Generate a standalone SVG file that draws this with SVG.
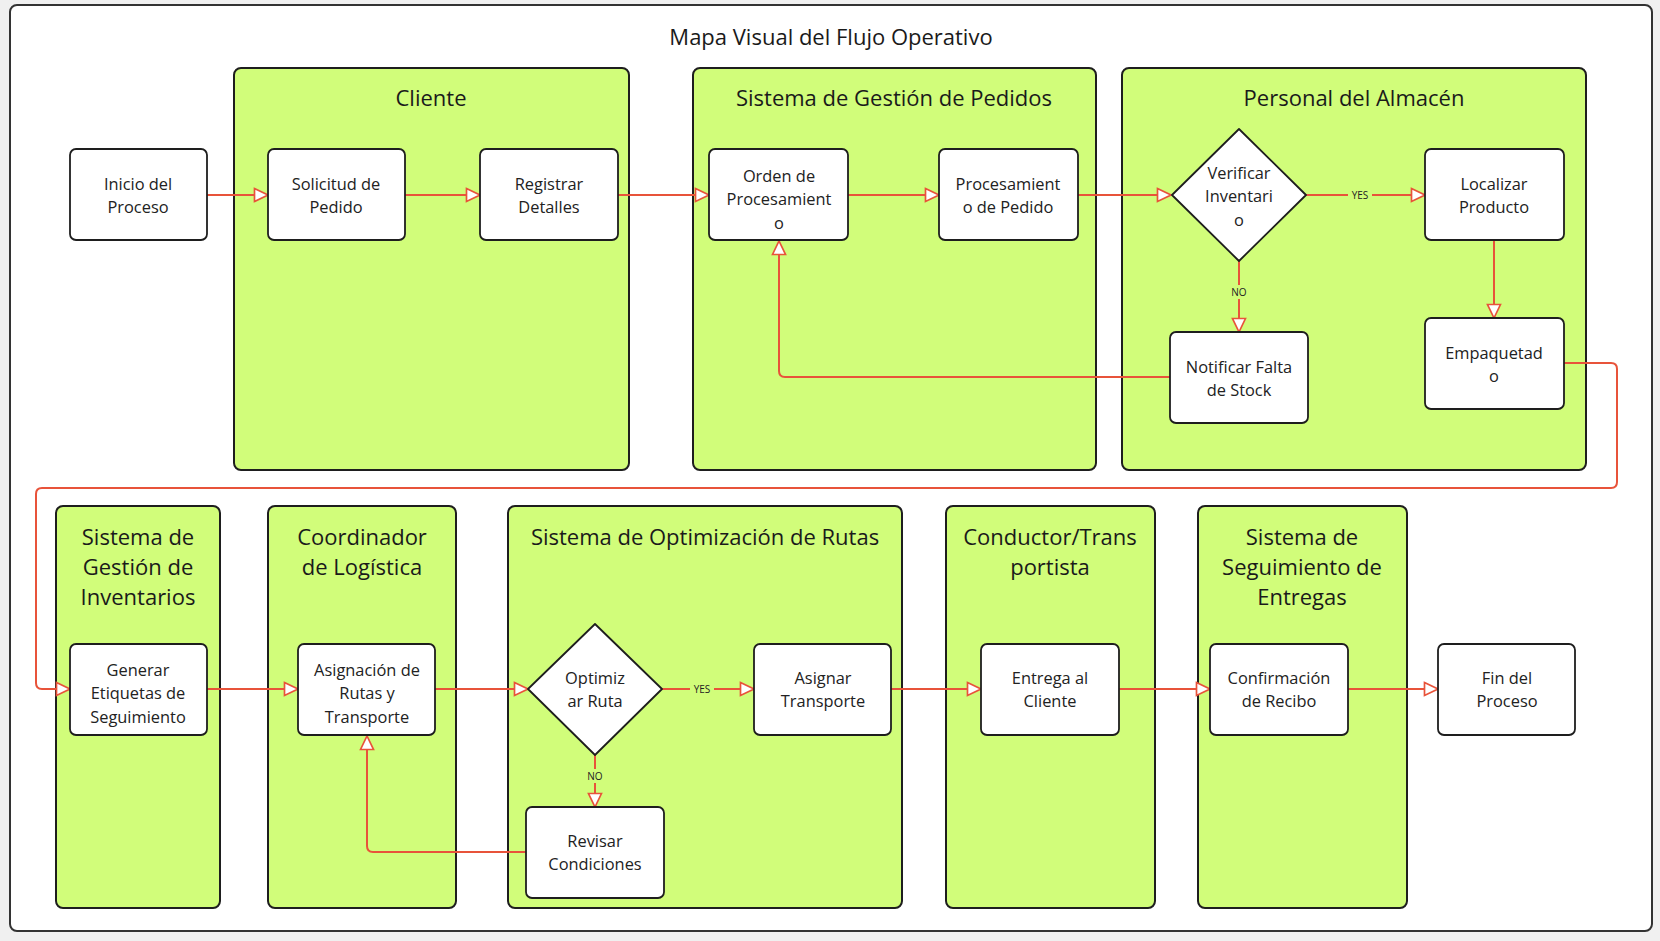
<svg xmlns="http://www.w3.org/2000/svg" width="1660" height="941" viewBox="0 0 1660 941">
<defs>
<marker id="arr" viewBox="0 0 16 16" refX="15" refY="8" markerWidth="16" markerHeight="16" markerUnits="userSpaceOnUse" orient="auto">
<path d="M1.5,1.5 L15,8 L1.5,14.5 Z" fill="#fff" stroke="#e8533a" stroke-width="1.7" stroke-linejoin="miter"/>
</marker>
<style>
.lane{fill:#d1fd7a;stroke:#1e1e1e;stroke-width:2}
.node{fill:#fff;stroke:#1e1e1e;stroke-width:1.8}
.lt{font-family:"Open Sans","Noto Sans",sans-serif;font-size:22px;fill:#1a1a1a;text-anchor:middle;dominant-baseline:central}
.nt{font-family:"Open Sans","Noto Sans",sans-serif;font-size:16.4px;fill:#222;text-anchor:middle;dominant-baseline:central}
.cl{fill:none;stroke:#e8533a;stroke-width:2}
.lb{font-family:"Open Sans","Noto Sans",sans-serif;font-size:10px;fill:#222;text-anchor:middle;dominant-baseline:central}
</style>
</defs>
<rect x="0" y="0" width="1660" height="941" fill="#f0f0f0"/>
<rect x="10" y="5" width="1642" height="926" rx="7" fill="#fff" stroke="#333" stroke-width="2"/>
<text x="831" y="36" class="lt" style="font-size:22px">Mapa Visual del Flujo Operativo</text>

<g id="lane-cliente"><rect class="lane" x="234" y="68" width="395" height="402" rx="7"/><text class="lt" x="431" y="97">Cliente</text></g>
<g id="lane-pedidos"><rect class="lane" x="693" y="68" width="403" height="402" rx="7"/><text class="lt" x="894" y="97">Sistema de Gestión de Pedidos</text></g>
<g id="lane-almacen"><rect class="lane" x="1122" y="68" width="464" height="402" rx="7"/><text class="lt" x="1354" y="97">Personal del Almacén</text></g>
<g id="lane-inventarios"><rect class="lane" x="56" y="506" width="164" height="402" rx="7"/><text class="lt" x="138" y="536">Sistema de</text><text class="lt" x="138" y="566">Gestión de</text><text class="lt" x="138" y="596">Inventarios</text></g>
<g id="lane-logistica"><rect class="lane" x="268" y="506" width="188" height="402" rx="7"/><text class="lt" x="362" y="536">Coordinador</text><text class="lt" x="362" y="566">de Logística</text></g>
<g id="lane-rutas"><rect class="lane" x="508" y="506" width="394" height="402" rx="7"/><text class="lt" x="705" y="536">Sistema de Optimización de Rutas</text></g>
<g id="lane-conductor"><rect class="lane" x="946" y="506" width="209" height="402" rx="7"/><text class="lt" x="1050" y="536">Conductor/Trans</text><text class="lt" x="1050" y="566">portista</text></g>
<g id="lane-seguimiento"><rect class="lane" x="1198" y="506" width="209" height="402" rx="7"/><text class="lt" x="1302" y="536">Sistema de</text><text class="lt" x="1302" y="566">Seguimiento de</text><text class="lt" x="1302" y="596">Entregas</text></g>

<g id="connectors">
<path class="cl" d="M207,195 H268" marker-end="url(#arr)"/>
<path class="cl" d="M405,195 H480" marker-end="url(#arr)"/>
<path class="cl" d="M618,195 H709" marker-end="url(#arr)"/>
<path class="cl" d="M848,195 H939" marker-end="url(#arr)"/>
<path class="cl" d="M1078,195 H1171" marker-end="url(#arr)"/>
<path class="cl" d="M1306,195 H1425" marker-end="url(#arr)"/>
<path class="cl" d="M1239,260 V332" marker-end="url(#arr)"/>
<path class="cl" d="M1170,377 H785 Q779,377 779,371 V241" marker-end="url(#arr)"/>
<path class="cl" d="M1494,240 V318" marker-end="url(#arr)"/>
<path class="cl" d="M1564,363 H1611 Q1617,363 1617,369 V482 Q1617,488 1611,488 H42 Q36,488 36,494 V683 Q36,689 42,689 H70" marker-end="url(#arr)"/>
<path class="cl" d="M207,689 H298" marker-end="url(#arr)"/>
<path class="cl" d="M435,689 H528" marker-end="url(#arr)"/>
<path class="cl" d="M662,689 H754" marker-end="url(#arr)"/>
<path class="cl" d="M595,755 V807" marker-end="url(#arr)"/>
<path class="cl" d="M526,852 H373 Q367,852 367,846 V736" marker-end="url(#arr)"/>
<path class="cl" d="M891,689 H981" marker-end="url(#arr)"/>
<path class="cl" d="M1119,689 H1210" marker-end="url(#arr)"/>
<path class="cl" d="M1348,689 H1438" marker-end="url(#arr)"/>
<rect x="1348" y="188" width="24" height="14" fill="#d1fd7a"/><text class="lb" x="1360" y="195">YES</text>
<rect x="1229" y="285" width="20" height="14" fill="#d1fd7a"/><text class="lb" x="1239" y="292">NO</text>
<rect x="690" y="682" width="24" height="14" fill="#d1fd7a"/><text class="lb" x="702" y="689">YES</text>
<rect x="585" y="769" width="20" height="14" fill="#d1fd7a"/><text class="lb" x="595" y="776">NO</text>
</g>

<g id="n-inicio"><rect class="node" x="70" y="149" width="137" height="91" rx="6"/><text class="nt" x="138" y="183">Inicio del</text><text class="nt" x="138" y="206">Proceso</text></g>
<g id="n-solicitud"><rect class="node" x="268" y="149" width="137" height="91" rx="6"/><text class="nt" x="336" y="183">Solicitud de</text><text class="nt" x="336" y="206">Pedido</text></g>
<g id="n-registrar"><rect class="node" x="480" y="149" width="138" height="91" rx="6"/><text class="nt" x="549" y="183">Registrar</text><text class="nt" x="549" y="206">Detalles</text></g>
<g id="n-orden"><rect class="node" x="709" y="149" width="139" height="91" rx="6"/><text class="nt" x="779" y="175">Orden de</text><text class="nt" x="779" y="198">Procesamient</text><text class="nt" x="779" y="222">o</text></g>
<g id="n-procesamiento"><rect class="node" x="939" y="149" width="139" height="91" rx="6"/><text class="nt" x="1008" y="183">Procesamient</text><text class="nt" x="1008" y="206">o de Pedido</text></g>
<g id="n-verificar"><path class="node" d="M1239,129 L1306,195 L1239,261 L1172,195 Z" stroke-linejoin="round"/><text class="nt" x="1239" y="172">Verificar</text><text class="nt" x="1239" y="195">Inventari</text><text class="nt" x="1239" y="219">o</text></g>
<g id="n-localizar"><rect class="node" x="1425" y="149" width="139" height="91" rx="6"/><text class="nt" x="1494" y="183">Localizar</text><text class="nt" x="1494" y="206">Producto</text></g>
<g id="n-notificar"><rect class="node" x="1170" y="332" width="138" height="91" rx="6"/><text class="nt" x="1239" y="366">Notificar Falta</text><text class="nt" x="1239" y="389">de Stock</text></g>
<g id="n-empaquetado"><rect class="node" x="1425" y="318" width="139" height="91" rx="6"/><text class="nt" x="1494" y="352">Empaquetad</text><text class="nt" x="1494" y="375">o</text></g>
<g id="n-generar"><rect class="node" x="70" y="644" width="137" height="91" rx="6"/><text class="nt" x="138" y="669">Generar</text><text class="nt" x="138" y="692">Etiquetas de</text><text class="nt" x="138" y="716">Seguimiento</text></g>
<g id="n-asignacion"><rect class="node" x="298" y="644" width="137" height="91" rx="6"/><text class="nt" x="367" y="669">Asignación de</text><text class="nt" x="367" y="692">Rutas y</text><text class="nt" x="367" y="716">Transporte</text></g>
<g id="n-optimizar"><path class="node" d="M595,624 L662,689 L595,755 L528,689 Z" stroke-linejoin="round"/><text class="nt" x="595" y="677">Optimiz</text><text class="nt" x="595" y="700">ar Ruta</text></g>
<g id="n-asignar"><rect class="node" x="754" y="644" width="137" height="91" rx="6"/><text class="nt" x="823" y="677">Asignar</text><text class="nt" x="823" y="700">Transporte</text></g>
<g id="n-revisar"><rect class="node" x="526" y="807" width="138" height="91" rx="6"/><text class="nt" x="595" y="840">Revisar</text><text class="nt" x="595" y="863">Condiciones</text></g>
<g id="n-entrega"><rect class="node" x="981" y="644" width="138" height="91" rx="6"/><text class="nt" x="1050" y="677">Entrega al</text><text class="nt" x="1050" y="700">Cliente</text></g>
<g id="n-confirmacion"><rect class="node" x="1210" y="644" width="138" height="91" rx="6"/><text class="nt" x="1279" y="677">Confirmación</text><text class="nt" x="1279" y="700">de Recibo</text></g>
<g id="n-fin"><rect class="node" x="1438" y="644" width="137" height="91" rx="6"/><text class="nt" x="1507" y="677">Fin del</text><text class="nt" x="1507" y="700">Proceso</text></g>
</svg>
